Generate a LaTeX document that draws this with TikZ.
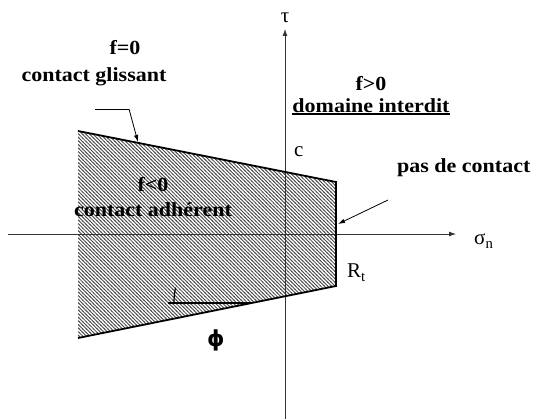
\documentclass[tikz,border=0pt]{standalone}
\usepackage{fontspec}
\setmainfont{Liberation Serif}
\newfontfamily\lbfont[FakeStretch=1.1]{Liberation Serif}
\newfontfamily\symfont{DejaVu Sans}
\usetikzlibrary{patterns,arrows.meta}
\pgfdeclarepatternformonly{hatchnw}{\pgfqpoint{-1pt}{-1pt}}{\pgfqpoint{4.6pt}{4.6pt}}{\pgfqpoint{3.6pt}{3.6pt}}{%
  \pgfsetlinewidth{0.85pt}%
  \pgfpathmoveto{\pgfqpoint{-0.5pt}{4.1pt}}%
  \pgfpathlineto{\pgfqpoint{4.1pt}{-0.5pt}}%
  \pgfusepath{stroke}}
\begin{document}
\begin{tikzpicture}[x=1pt,y=-1pt,
  lbl/.style={font=\lbfont\bfseries\fontsize{20}{22}\selectfont, inner sep=0pt, anchor=base},
  sym/.style={font=\fontsize{21}{23}\selectfont, inner sep=0pt, anchor=base west},
  axis/.style={line width=0.8pt, black!80, -{Latex[length=7pt,width=5pt]}},
  edge/.style={line width=1.8pt, line join=miter},
  pointer/.style={line width=0.8pt, -{Latex[length=7pt,width=4.5pt]}}]
\useasboundingbox (0,0) rectangle (536,419);
% polygon corners
\coordinate (TL) at (78,131);
\coordinate (TR) at (336,182);
\coordinate (BR) at (336,286);
\coordinate (BL) at (78,338);
\fill[pattern=hatchnw, pattern color=black!70] (TL) -- (TR) -- (BR) -- (BL) -- cycle;
% axes
\coordinate (xs) at (8,234);
\coordinate (xe) at (456,234);
\coordinate (ys) at (285,419);
\coordinate (ye) at (285,29);
\draw[axis] (xs) -- (xe);
\draw[axis] (ys) -- (ye);
% boundary
\draw[edge] (TL) -- (TR) -- (BR) -- (BL);
% angle phi
\coordinate (av) at (252,303);
\coordinate (al) at (168,303);
\draw[line width=1.2pt] (al) -- (av);
\draw[line width=1.2pt] (av) ++(180:78) arc[start angle=180, end angle=191.4, radius=78];
% labels
\node[lbl] (f0) at (125,55) {f=0};
\node[lbl] (cg) at (94,82) {contact glissant};
\node[lbl] (fp) at (371,91) {f>0};
\node[lbl] (di) at (371,113) {domaine interdit};
\draw[line width=2.4pt] ([yshift=-0.6pt]di.south west) -- ([yshift=-0.6pt]di.south east);
\node[lbl] (fn) at (153,192) {f<0};
\node[lbl] (ca) at (153,217) {contact adhérent};
\node[lbl, anchor=base west] (pc) at (397,173) {pas de contact};
\node[sym] (c) at (294,157) {c};
\node[sym] (rt) at (347,278) {R\textsubscript{t}};
\node[sym] (sn) at (474,245) {σ\textsubscript{n}};
\node[sym, anchor=center] (tau) at (285,18) {τ};
\node[inner sep=0pt, font=\symfont\bfseries\fontsize{22}{24}\selectfont] (phi) at (216,340) {ϕ};
% pointers
\coordinate (g1) at (95,109);
\coordinate (g2) at (129,109);
\coordinate (g3) at (138,142);
\draw[line width=0.8pt] (g1) -- (g2);
\draw[pointer] (g2) -- (g3);
\coordinate (p1) at (388,200);
\coordinate (p2) at (338,224);
\draw[pointer] (p1) -- (p2);
\end{tikzpicture}
\end{document}
